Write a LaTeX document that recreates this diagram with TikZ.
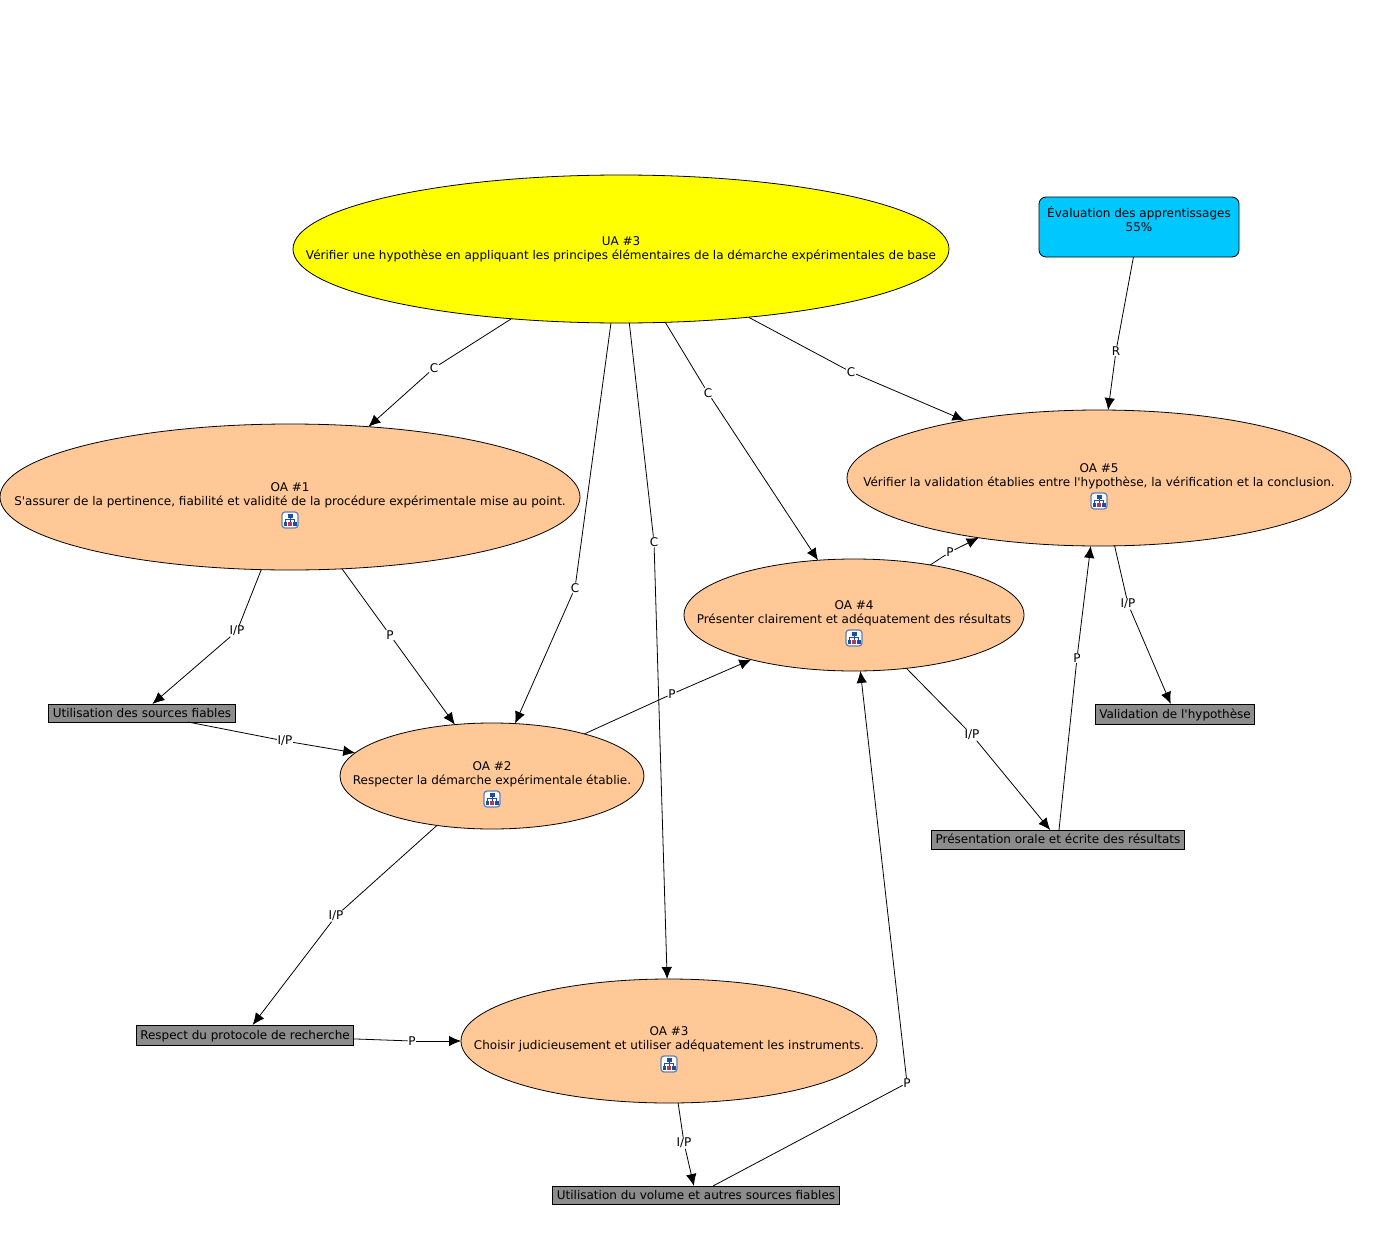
\documentclass[tikz,border=0pt]{standalone}
\usepackage{fontspec}
\setmainfont{DejaVu Sans}[Ligatures=TeXOff]
\usetikzlibrary{shapes.geometric,arrows.meta}
\definecolor{uayellow}{HTML}{FFFF00}
\definecolor{oacol}{HTML}{FFC896}
\definecolor{boxgray}{HTML}{8C8C8C}
\definecolor{evalblue}{HTML}{00C8FF}
\definecolor{iconblue}{HTML}{1F4E9C}
\definecolor{iconred}{HTML}{B03A5A}
\definecolor{iconframecol}{HTML}{5F7FB8}
\newcommand{\ctext}[2]{\raisebox{#1}[0pt][0pt]{\makebox[0pt]{\begin{tabular}{@{}c@{}}#2\end{tabular}}}}
\newcommand{\oaicon}[2]{%
  \node[iconframe] (#1) at (#2) {};
  \begin{scope}[shift={(#1.center)},line width=0.8pt]
    \draw[iconblue] (0,-3) -- (0,2) (-4.5,2) -- (-4.5,-0.5) -- (4.5,-0.5) -- (4.5,2);
    \fill[iconblue] (-2.5,-6) rectangle (2.5,-2.5);
    \fill[iconblue] (-6.5,1.5) rectangle (-3,5.5);
    \fill[iconred] (-1.7,2) rectangle (1.7,5.5);
    \fill[iconblue] (3,1.5) rectangle (6.5,5.5);
  \end{scope}}
\tikzset{
  every node/.style={font=\fontsize{12pt}{14.7pt}\selectfont,text=black},
  ell/.style={ellipse,draw=black,line width=0.8pt,inner sep=0pt,outer sep=0pt},
  uanode/.style={ell,fill=uayellow},
  oanode/.style={ell,fill=oacol},
  grayrect/.style={rectangle,draw=black,line width=0.9pt,fill=boxgray,inner sep=0pt,outer sep=0pt},
  evalbox/.style={rectangle,rounded corners=7pt,draw=black,line width=0.8pt,fill=evalblue,inner sep=0pt,outer sep=0pt},
  iconframe/.style={rectangle,rounded corners=3pt,draw=iconframecol,line width=1.2pt,fill=white,minimum width=16pt,minimum height=16pt,inner sep=0pt},
  elabel/.style={fill=white,inner sep=0.6pt},
  plain/.style={draw=black,line width=0.8pt},
  arrowed/.style={plain,-{Latex[length=12pt,width=10.5pt]}},
}
\newcommand{\conn}[4]{%
  \node[elabel] (#1) at (#2) {\raisebox{-1pt}{#3}};
  \foreach \pa/\pb in {#4}{\draw[plain] (\pa) -- (#1); \draw[arrowed] (#1) -- (\pb);}}
\begin{document}
\begin{tikzpicture}[x=1pt,y=-1pt]
\useasboundingbox (0,0) rectangle (1395,1250);
\node[uanode,minimum width=656pt,minimum height=148pt] (ua) at (621,249) {\ctext{-3.5pt}{UA \#3\\Vérifier une hypothèse en appliquant les principes élémentaires de la démarche expérimentales de base}};
\node[oanode,minimum width=580pt,minimum height=146pt] (oa1) at (290,497) {\ctext{-1.5pt}{OA \#1\\S'assurer de la pertinence, fiabilité et validité de la procédure expérimentale mise au point.}};
\node[oanode,minimum width=304pt,minimum height=106pt] (oa2) at (492,776) {\ctext{-1.5pt}{OA \#2\\Respecter la démarche expérimentale établie.}};
\node[oanode,minimum width=416pt,minimum height=124pt] (oa3) at (669,1041) {\ctext{-1.5pt}{OA \#3\\Choisir judicieusement et utiliser adéquatement les instruments.}};
\node[oanode,minimum width=340pt,minimum height=112pt] (oa4) at (854,615) {\ctext{-1.5pt}{OA \#4\\Présenter clairement et adéquatement des résultats}};
\node[oanode,minimum width=504pt,minimum height=136pt] (oa5) at (1099,478) {\ctext{-1.5pt}{OA \#5\\Vérifier la validation établies entre l'hypothèse, la vérification et la conclusion.}};
\oaicon{ic1}{290,520}
\oaicon{ic2}{492,799}
\oaicon{ic3}{669,1064}
\oaicon{ic4}{854,638}
\oaicon{ic5}{1099,501}
\node[evalbox,minimum width=200pt,minimum height=60pt] (ev) at (1139,227) {\ctext{2.8pt}{Évaluation des apprentissages\\55\%}};
\node[grayrect,minimum width=187pt,minimum height=18pt] (src) at (142,713) {\ctext{-4.5pt}{Utilisation des sources fiables}};
\node[grayrect,minimum width=159pt,minimum height=20pt] (val) at (1175,714) {\ctext{-4.5pt}{Validation de l'hypothèse}};
\node[grayrect,minimum width=253pt,minimum height=19pt] (pres) at (1058,839.5) {\ctext{-4.5pt}{Présentation orale et écrite des résultats}};
\node[grayrect,minimum width=217pt,minimum height=20pt] (resp) at (245,1035) {\ctext{-4.5pt}{Respect du protocole de recherche}};
\node[grayrect,minimum width=287pt,minimum height=18pt] (vol) at (696,1195) {\ctext{-4.5pt}{Utilisation du volume et autres sources fiables}};
\conn{l1}{434,368}{C}{ua/oa1}
\conn{l2}{575,588}{C}{ua/oa2}
\conn{l3}{654,542}{C}{ua/oa3}
\conn{l4}{708,393}{C}{ua/oa4}
\conn{l5}{851,372}{C}{ua/oa5}
\conn{l6}{1116,351}{R}{ev/oa5}
\conn{l7}{237,631}{I/P}{oa1/src}
\conn{l8}{390,635}{P}{oa1/oa2}
\conn{l9}{285,741}{I/P}{src/oa2}
\conn{l10}{672,694}{P}{oa2/oa4}
\conn{l11}{336,916}{I/P}{oa2/resp}
\conn{l12}{412,1041}{P}{resp/oa3}
\conn{l13}{684,1143}{I/P}{oa3/vol}
\conn{l14}{907,1083}{P}{vol/oa4}
\conn{l15}{950,552}{P}{oa4/oa5}
\conn{l16}{972,735}{I/P}{oa4/pres}
\conn{l17}{1077,658}{P}{pres/oa5}
\conn{l18}{1128,604}{I/P}{oa5/val}
\end{tikzpicture}
\end{document}
